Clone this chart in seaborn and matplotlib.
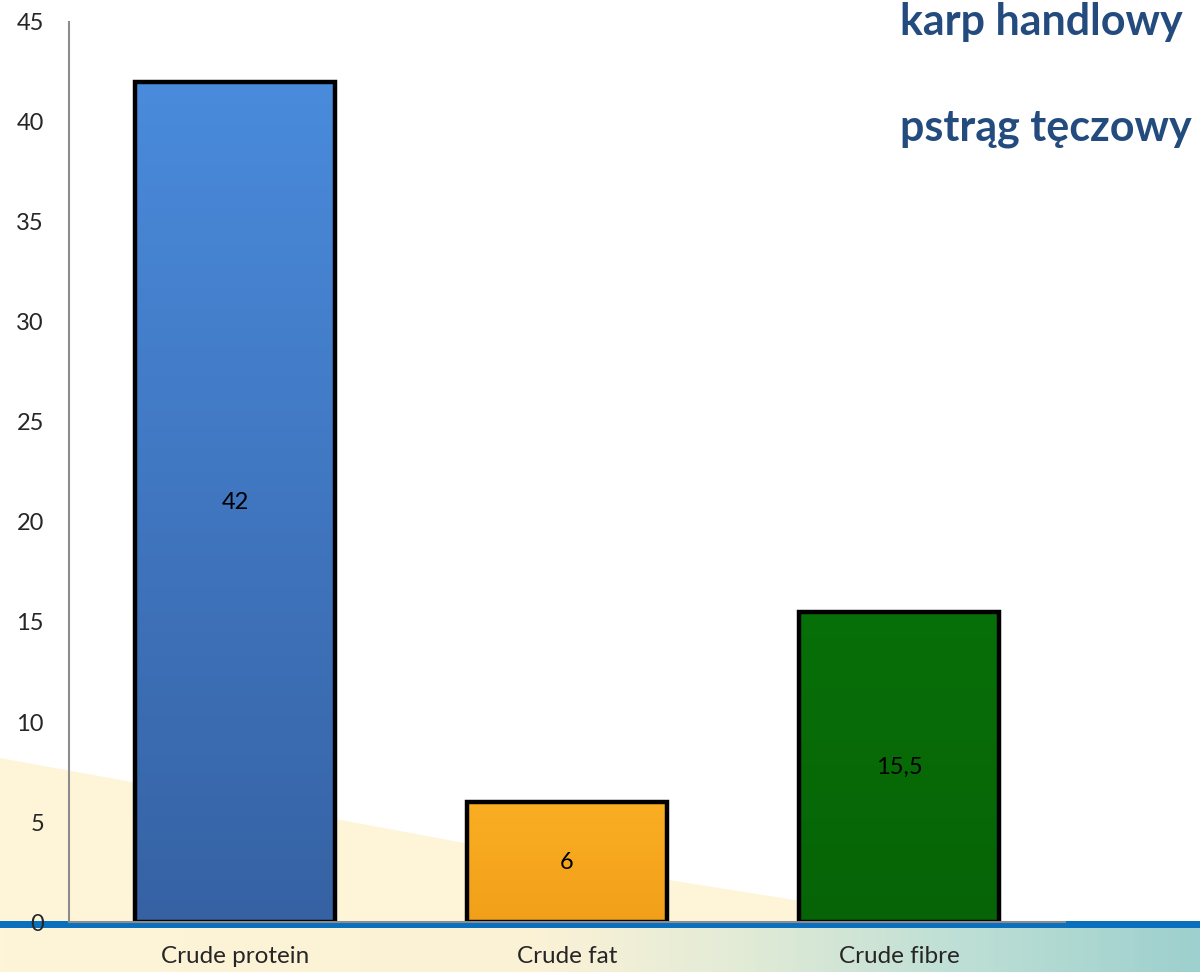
import numpy as np
import pandas as pd
import matplotlib
matplotlib.use("Agg")
import matplotlib.pyplot as plt
from matplotlib.colors import LinearSegmentedColormap
from matplotlib.patches import Polygon, Rectangle
import seaborn as sns

categories = ["Crude protein", "Crude fat", "Crude fibre"]
values = [42, 6, 15.5]
value_labels = ["42", "6", "15,5"]
bar_colors = ["#3F7AC6", "#F8A81C", "#086B08"]
bar_gradients = [("#4A8BDC", "#3662A4"), ("#FAAE22", "#F2A01A"), ("#087008", "#066406")]
y_ticks = [0, 5, 10, 15, 20, 25, 30, 35, 40, 45]
titles = ["karp handlowy", "pstrąg tęczowy"]

sns.set_theme(style="white")
plt.rcParams["font.family"] = ["Lato", "DejaVu Sans"]

W, H = 1200, 972
fig = plt.figure(figsize=(W / 100, H / 100), dpi=100)

# background decoration
bg = fig.add_axes([0, 0, 1, 1], zorder=0)
bg.set_xlim(0, W)
bg.set_ylim(H, 0)
bg.axis("off")
bg.add_patch(Polygon([(0, 758), (341, 820), (459, 842), (669, 880), (795, 900),
                      (960, 921), (0, 921)],
                     closed=True, facecolor="#FEF5D9", edgecolor="none"))
grad = np.linspace(0, 1, 256).reshape(1, -1)
cmap = LinearSegmentedColormap.from_list(
    "strip", [(0, "#FEF5D9"), (0.45, "#FBF2D6"), (0.62, "#E2EBD6"), (0.8, "#BEDFD5"), (1, "#9DD0CE")])
bg.imshow(grad, extent=(0, W, H, 928), aspect="auto", cmap=cmap, zorder=1)
bg.add_patch(Rectangle((0, 921), W, 7, facecolor="#0A70BE", edgecolor="none", zorder=2))

ax = fig.add_axes([69 / W, 50 / H, (1065 - 69) / W, 900 / H], zorder=1)
ax.patch.set_alpha(0)

df = pd.DataFrame({"category": categories, "value": values})
sns.barplot(data=df, x="category", y="value", hue="category", palette=bar_colors,
            legend=False, width=0.6, edgecolor="black", linewidth=3.2, ax=ax, saturation=1)

# vertical gradient fill clipped to each bar
vgrad = np.linspace(1, 0, 256).reshape(-1, 1)
for patch, (top, bottom) in zip(ax.patches, bar_gradients):
    x0, w, h = patch.get_x(), patch.get_width(), patch.get_height()
    cm = LinearSegmentedColormap.from_list("bar", [bottom, top])
    im = ax.imshow(vgrad, extent=(x0, x0 + w, 0, h), aspect="auto", cmap=cm,
                   origin="upper", zorder=patch.get_zorder() - 0.1)
    im.set_clip_path(patch)
    patch.set_facecolor("none")

for i, (v, lab) in enumerate(zip(values, value_labels)):
    ax.text(i, v / 2, lab, ha="center", va="center", fontsize=17, color="black", zorder=5)

ax.set_ylim(0, 45)
ax.set_xlim(-0.5, 2.5)
ax.set_yticks(y_ticks)
ax.set_yticklabels([str(t) for t in y_ticks], fontsize=17)
ax.tick_params(axis="y", length=0, pad=18)
ax.tick_params(axis="x", length=0, pad=17, labelsize=17.5)
ax.set_xlabel("")
ax.set_ylabel("")
for s in ["top", "right"]:
    ax.spines[s].set_visible(False)
ax.spines["left"].set_color("#8C8C8C")
ax.spines["bottom"].set_color("#8C8C8C")
ax.spines["left"].set_linewidth(1.5)
ax.spines["bottom"].set_linewidth(1.5)

fig.text(900 / W, 1 - 22 / H, titles[0], fontsize=31, fontweight="bold",
         color="#234B7E", ha="left", va="center")
fig.text(900 / W, 1 - 128 / H, titles[1], fontsize=31, fontweight="bold",
         color="#234B7E", ha="left", va="center")

fig.savefig("out.png", dpi=100)
